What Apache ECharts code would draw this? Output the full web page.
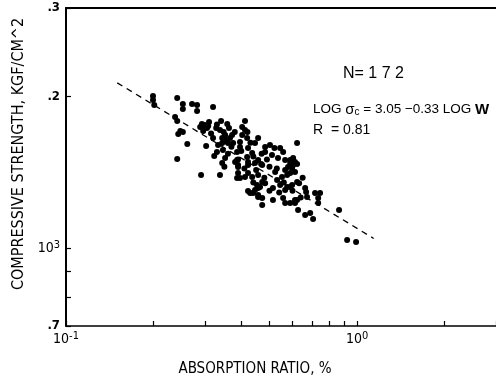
<!DOCTYPE html>
<html><head><meta charset="utf-8">
<script src="https://cdn.jsdelivr.net/npm/echarts@6/dist/echarts.min.js"></script>
<style>html,body{margin:0;padding:0;background:#fff}#c{width:496px;height:383px}</style>
</head><body><div id="c"></div>
<script>
// Absorption ratio W (%) and compressive strength (kgf/cm^2)
const absorption = [
 0.199,0.199,0.201,0.241,0.252,0.252,0.271,0.282,0.282,0.320,0.237,0.241,0.247,0.243,0.252,0.261,0.241,0.291,
 0.289,0.293,0.300,0.305,0.296,0.308,0.328,0.320,0.303,0.323,0.333,
 0.341,0.358,0.363,0.412,0.403,0.338,0.352,0.344,0.366,0.403,0.412,0.457,0.446,0.396,0.396,0.360,0.346,0.330,
 0.422,0.436,0.483,0.502,0.483,0.510,0.535,0.566,0.589,0.419,0.457,0.352,0.387,0.344,0.390,0.422,0.603,0.472,
 0.372,0.375,0.387,0.381,0.419,0.544,0.557,0.589,0.612,0.622,0.603,0.612,0.344,
 0.338,0.390,0.422,0.446,0.468,0.579,0.390,0.387,0.396,0.412,0.422,0.436,0.457,0.472,0.523,0.552,0.575,0.566,0.589,
 0.453,0.446,0.457,0.464,0.422,0.429,0.439,0.457,0.483,0.514,0.531,0.544,0.575,0.566,0.589,
 0.457,0.472,0.472,0.514,0.557,0.566,0.589,0.612,
 0.622,0.598,0.622,0.632,0.598,0.663,0.668,0.673,0.622,0.612,0.717,0.746,0.735,0.735,0.627,0.663,0.690,0.706,0.867,0.924,0.992,
 0.296,0.315,0.348,0.355,0.370,0.380,0.400,0.430,0.440,0.470,0.490,0.360,0.410,0.450,0.500,0.530,0.480,0.500,0.540,0.600,0.640,0.310,0.330,0.420,0.520,0.560,0.650,0.440,0.390,0.350
];
const strength = [
 2005,1969,1924,1987,1933,1889,1933,1924,1872,1906,1822,1789,1709,1685,1701,1610,1503,1397,
 1740,1764,1756,1732,1709,1748,1732,1655,1595,1524,1602,
 1789,1764,1732,1789,1740,1717,1678,1655,1655,1678,1717,1655,1617,1625,1588,1617,1566,1552,
 1580,1545,1588,1602,1552,1531,1510,1496,1496,1517,1496,1510,1496,1476,1462,1462,1462,1462,
 1678,1617,1552,1483,1655,1580,1552,1476,1483,1617,1510,1416,1617,
 1397,1449,1483,1476,1469,1449,1410,1378,1378,1384,1410,1384,1397,1353,1416,1384,1397,1429,1410,
 1334,1304,1316,1322,1298,1286,1286,1275,1346,1316,1365,1334,1322,1304,1322,
 1263,1257,1218,1246,1257,1229,1229,1246,
 1469,1442,1353,1346,1334,1316,1292,1263,1246,1229,1286,1286,1257,1229,1190,1163,1174,1142,1190,1037,1028,
 1748,1690,1700,1640,1590,1700,1560,1620,1520,1540,1500,1540,1440,1430,1450,1440,1380,1300,1290,1300,1260,1780,1760,1700,1580,1350,1380,1350,1500,1450
];
// dashed regression line end points
const lineW = [0.15, 1.14];
const lineS = [2130, 1045];
// tick values
const xTicks = [0.1,0.2,0.3,0.4,0.5,0.6,0.7,0.8,0.9,1,2,3];
const xLabels = [0.1, 1];
const yTicks = [700,800,900,1000,2000,3000];
const yLabels = [700,1000,2000,3000];

const pts = absorption.map((w,i)=>[w, strength[i]]);
const linePts = lineW.map((w,i)=>[w, lineS[i]]);
const F = 'DejaVu Sans Condensed, DejaVu Sans, sans-serif';
const A = 'Liberation Sans, Arial, sans-serif';
const chart = echarts.init(document.getElementById('c'), null, {renderer:'canvas'});
chart.setOption({
  animation:false,
  backgroundColor:'#fff',
  grid:{left:66, right:0, top:8, bottom:57},
  xAxis:[{
    type:'log', logBase:10, min:0.1, max:3,
    name:'ABSORPTION RATIO, %', nameLocation:'middle', nameGap:36,
    nameTextStyle:{fontFamily:F, fontSize:15, color:'#000', padding:[0,52,0,0]},
    axisLine:{show:true, onZero:false, lineStyle:{color:'#000', width:1.5}},
    axisTick:{show:true, inside:true, length:5, customValues:xTicks, lineStyle:{color:'#000', width:1.2}},
    axisLabel:{show:true, customValues:xLabels, margin:5, color:'#000',
      formatter:v=> v<0.5 ? '{b|10}{s|-1}' : '{b|10}{s|0}',
      rich:{b:{fontFamily:F, fontSize:14, color:'#000'}, s:{fontFamily:F, fontSize:11, color:'#000', verticalAlign:'top', padding:[0,0,6,0]}}},
    splitLine:{show:false}, minorTick:{show:false}
  },{
    type:'log', logBase:10, min:0.1, max:3, position:'top',
    axisLine:{show:true, lineStyle:{color:'#000', width:2}},
    axisTick:{show:false}, axisLabel:{show:false}, splitLine:{show:false}
  }],
  yAxis:{
    type:'log', logBase:10, min:700, max:3000,
    name:'COMPRESSIVE STRENGTH, KGF/CM^2', nameLocation:'middle', nameGap:38, nameRotate:90,
    nameTextStyle:{fontFamily:F, fontSize:16, color:'#000', padding:[0,0,0,26]},
    axisLine:{show:true, onZero:false, lineStyle:{color:'#000', width:2}},
    axisTick:{show:true, inside:true, length:5, customValues:yTicks, lineStyle:{color:'#000', width:1.2}},
    axisLabel:{show:true, customValues:yLabels, margin:6, color:'#000',
      formatter:v=> v===700?'{b|.7}': v===1000?'{n|10}{s|3}': v===2000?'{b|.2}':'{b|.3}',
      rich:{b:{fontFamily:F, fontSize:13, fontWeight:'bold', color:'#000'},
            n:{fontFamily:F, fontSize:14, color:'#000'},
            s:{fontFamily:F, fontSize:11, color:'#000', verticalAlign:'top', padding:[0,0,6,0]}}},
    splitLine:{show:false}
  },
  series:[
    {type:'scatter', data:pts, symbol:'circle', symbolSize:6, itemStyle:{color:'#000', opacity:1}, silent:true},
    {type:'line', data:linePts, symbol:'none', silent:true,
     lineStyle:{color:'#000', width:1.3, type:[6,5]}}
  ],
  graphic:[
    {type:'text', left:343, top:66, style:{text:'N= 1 7 2', fontFamily:A, fontSize:16, fill:'#000'}},
    {type:'text', left:313, top:102, style:{
      text:'{a|LOG }{g|σ}{c|c}{a| = 3.05 −0.33 LOG }{w|W}',
      rich:{a:{fontFamily:A, fontSize:13.5, fill:'#000'},
            g:{fontFamily:A, fontSize:15, fill:'#000'},
            c:{fontFamily:A, fontSize:10, fill:'#000', verticalAlign:'bottom'},
            w:{fontFamily:A, fontSize:15, fontWeight:'bold', fill:'#000'}}}},
    {type:'text', left:313, top:123, style:{text:'R  = 0.81', fontFamily:A, fontSize:14, fill:'#000'}}
  ]
});
</script></body></html>
